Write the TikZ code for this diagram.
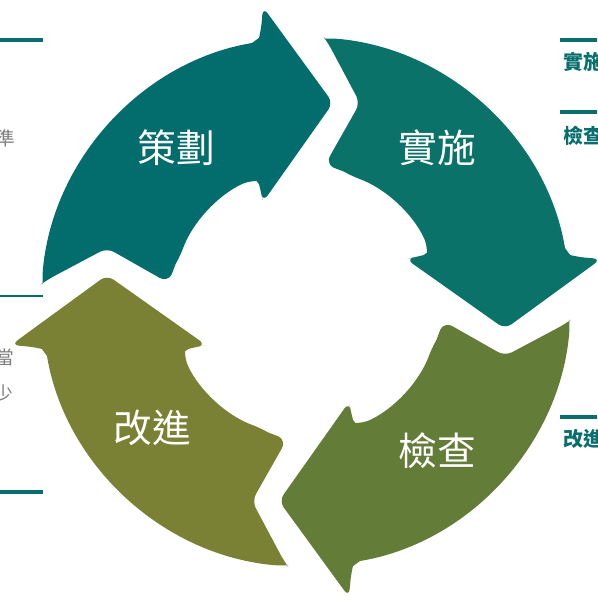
\documentclass[tikz,border=0pt]{standalone}
\usepackage{fontspec}
\newfontfamily\cjk{Noto Sans CJK TC}
\definecolor{cplan}{RGB}{3,108,108}
\definecolor{cdo}{RGB}{10,114,104}
\definecolor{ccheck}{RGB}{99,124,56}
\definecolor{cact}{RGB}{122,128,52}
\definecolor{cline}{RGB}{8,110,110}
\definecolor{cgrey}{RGB}{125,125,125}
\tikzset{
  lbl/.style={text=white, font=\cjk\fontsize{29}{32}\selectfont, inner sep=0pt},
  sidetxt/.style={text=cline, font=\cjk\bfseries\fontsize{15}{18}\selectfont, inner sep=0pt, anchor=west},
  greytxt/.style={text=cgrey, font=\cjk\fontsize{14}{16}\selectfont, inner sep=0pt, anchor=east},
  thickrule/.style={cline, line width=3pt},
  thinrule/.style={cline, line width=1pt},
  arrowshape/.style={rounded corners=6pt}
}
\begin{document}
\begin{tikzpicture}[x=0.75pt, y=-0.75pt]
\useasboundingbox (0,0) rectangle (597,600);
\coordinate (C) at (306,302);
\foreach \ang/\col in {0/cplan, -90/cdo, -180/ccheck, -270/cact} {
  \fill[\col, arrowshape, rotate around={\ang:(C)}]
    (107,248) -- (167,282)
    .. controls (172,274) and (175,265) .. (180.1,256.2)
    arc[start angle=200, end angle=245, radius=134]
    .. controls (256,181) and (259,184) .. (261,192)
    -- (263,202) -- (333,103) -- (263,7) -- (261,30)
    .. controls (259,38) and (252,43) .. (244.1,44.3)
    arc[start angle=256.5, end angle=185.5, radius=265]
    .. controls (42.5,281.5) and (43.5,282.5) .. (47.4,279.7) -- cycle;
}
\node[lbl] (plan) at (176,148) {策劃};
\node[lbl] (do) at (437,148) {實施};
\node[lbl] (check) at (437,451) {檢查};
\node[lbl] (act) at (152,428) {改進};
% left side
\draw[thickrule] (0,39.5) -- (43,39.5);
\draw[thinrule] (0,296) -- (43,296);
\draw[thickrule] (0,491.5) -- (43,491.5);
\node[greytxt] (g1) at (15,138) {準};
\node[greytxt] (g2) at (14,357) {當};
\node[greytxt] (g3) at (13,393) {少};
% right side
\draw[thickrule] (560,39.5) -- (597,39.5);
\draw[thickrule] (560,111.5) -- (597,111.5);
\draw[thickrule] (560,417) -- (597,417);
\node[sidetxt] (r1) at (563,62) {實施};
\node[sidetxt] (r2) at (563,136) {檢查};
\node[sidetxt] (r3) at (563,439) {改進};
\end{tikzpicture}
\end{document}
